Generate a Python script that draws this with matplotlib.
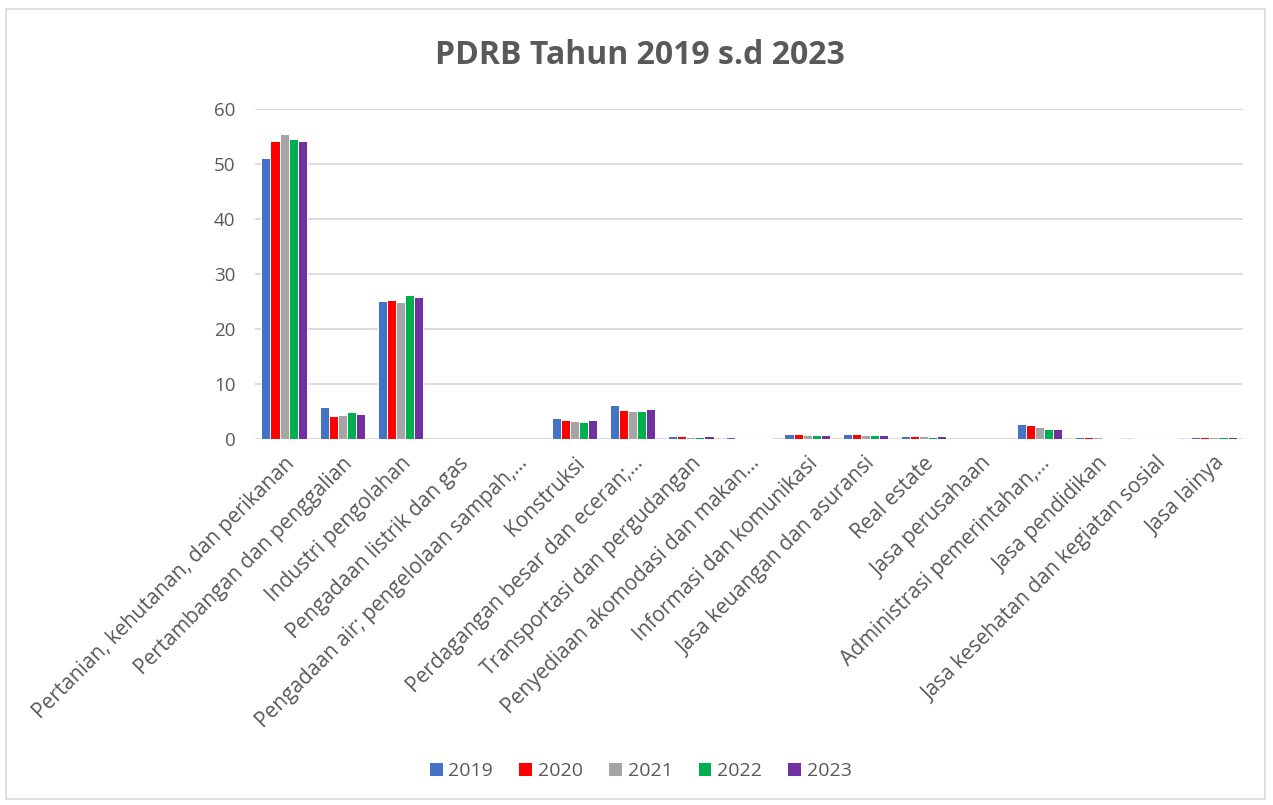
import matplotlib.pyplot as plt
import numpy as np
from matplotlib.patches import Rectangle

plt.rcParams['font.family'] = ['Open Sans', 'DejaVu Sans']

categories = [
    "Pertanian, kehutanan, dan perikanan",
    "Pertambangan dan penggalian",
    "Industri pengolahan",
    "Pengadaan listrik dan gas",
    "Pengadaan air; pengelolaan sampah,...",
    "Konstruksi",
    "Perdagangan besar dan eceran;...",
    "Transportasi dan pergudangan",
    "Penyediaan akomodasi dan makan...",
    "Informasi dan komunikasi",
    "Jasa keuangan dan asuransi",
    "Real estate",
    "Jasa perusahaan",
    "Administrasi pemerintahan,...",
    "Jasa pendidikan",
    "Jasa kesehatan dan kegiatan sosial",
    "Jasa lainya",
]

years = ["2019", "2020", "2021", "2022", "2023"]
v2019 = [51.0, 5.75, 25.0, 0.02, 0.01, 3.8, 6.2, 0.5, 0.3, 0.85, 0.85, 0.6, 0.0, 2.8, 0.3, 0.12, 0.45]
v2020 = [54.1, 4.25, 25.2, 0.02, 0.01, 3.5, 5.3, 0.5, 0.2, 0.9, 0.85, 0.55, 0.0, 2.6, 0.3, 0.12, 0.3]
v2021 = [55.4, 4.35, 24.9, 0.02, 0.01, 3.25, 5.0, 0.45, 0.15, 0.8, 0.75, 0.5, 0.0, 2.25, 0.3, 0.12, 0.3]
v2022 = [54.5, 4.85, 26.1, 0.02, 0.01, 3.1, 5.0, 0.45, 0.15, 0.7, 0.75, 0.45, 0.0, 1.9, 0.25, 0.12, 0.3]
v2023 = [54.2, 4.55, 25.9, 0.02, 0.01, 3.45, 5.4, 0.5, 0.2, 0.75, 0.8, 0.5, 0.0, 1.9, 0.25, 0.12, 0.3]
series = [v2019, v2020, v2021, v2022, v2023]
colors = ["#4472C4", "#FF0000", "#A5A5A5", "#00B050", "#7030A0"]

fig = plt.figure(figsize=(12.73, 8.05), dpi=100)
ax = fig.add_axes([255 / 1273, 1 - 439 / 805, 988 / 1273, 330 / 805])

x = np.arange(len(categories))
w = 0.78 / 5
for i, (vals, c, yr) in enumerate(zip(series, colors, years)):
    ax.bar(x - 0.39 + w * (i + 0.5), vals, width=w, color=c, edgecolor='white',
           linewidth=0.7, label=yr, zorder=3)

ax.set_xlim(-0.5, len(categories) - 0.5)
ax.set_ylim(0, 60)
ax.set_yticks(range(0, 61, 10))
ax.grid(axis='y', color='#d9d9d9', linewidth=1.3, zorder=0)
for s in ax.spines.values():
    s.set_visible(False)
ax.tick_params(length=0, colors='#595959', labelsize=13.5)
ax.tick_params(axis='y', pad=14)
ax.set_xticks(x)
ax.set_xticklabels(categories, rotation=45, ha='right', rotation_mode='anchor',
                   fontsize=15, color='#595959')
ax.tick_params(axis='x', pad=10)

fig.text(0.503, 1 - 55 / 805, "PDRB Tahun 2019 s.d 2023", ha='center', va='center',
         fontsize=23, fontweight='bold', color='#595959')

fig.legend(loc='center', bbox_to_anchor=(0.503, 1 - 771 / 805), ncol=5, frameon=False,
           fontsize=14, labelcolor='#595959', handlelength=0.7, handleheight=0.7,
           handletextpad=0.3, columnspacing=1.3)

fig.patches.append(Rectangle((6 / 1273, 6 / 805), 1259 / 1273, 790 / 805, transform=fig.transFigure,
                             fill=False, edgecolor='#d9d9d9', linewidth=1.2))

fig.savefig("out.png", dpi=100)
